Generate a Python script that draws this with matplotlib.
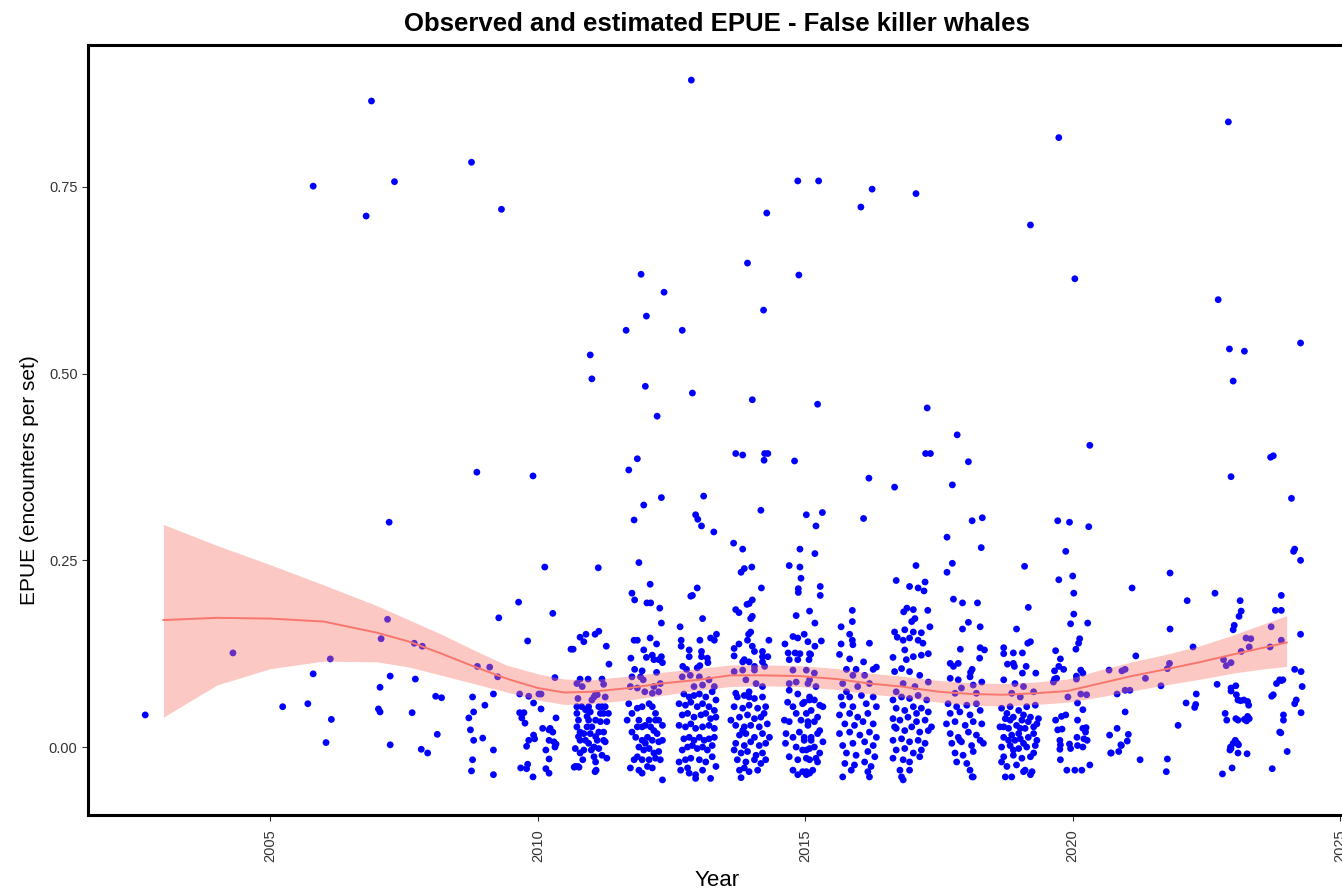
import matplotlib
matplotlib.use("Agg")
import matplotlib.pyplot as plt
import numpy as np

plt.rcParams['font.family'] = ['Liberation Sans', 'DejaVu Sans']

# Observed EPUE per set, (jittered year, encounters per set)
obs_early = [
    (2002.66, 0.043), (2004.30, 0.126), (2005.23, 0.054), (2005.70, 0.058), (2005.80, 0.098),
    (2005.80, 0.751), (2006.12, 0.118), (2006.14, 0.037), (2006.04, 0.006), (2006.79, 0.711),
    (2006.89, 0.865), (2007.22, 0.301), (2007.19, 0.171), (2007.07, 0.145), (2007.24, 0.095),
    (2007.05, 0.080), (2007.02, 0.051), (2007.05, 0.047), (2007.24, 0.003), (2007.32, 0.757),
    (2007.69, 0.139), (2007.84, 0.135), (2007.71, 0.091), (2007.65, 0.046), (2007.82, -0.003),
    (2007.94, -0.008), (2008.09, 0.068), (2008.20, 0.066), (2008.12, 0.017), (2008.76, 0.783),
    (2008.86, 0.368), (2009.32, 0.720), (2009.91, 0.363), (2009.64, 0.194), (2009.27, 0.173),
    (2009.81, 0.142), (2008.87, 0.108), (2009.10, 0.107), (2009.25, 0.094), (2008.78, 0.067),
    (2009.17, 0.071), (2009.01, 0.056), (2008.80, 0.047), (2008.71, 0.039), (2008.74, 0.023),
    (2008.80, 0.009), (2008.97, 0.012), (2009.17, -0.004), (2008.78, -0.017), (2008.76, -0.032),
    (2009.17, -0.037), (2009.66, 0.071), (2009.83, 0.068), (2009.92, 0.059), (2009.66, 0.046),
    (2009.74, 0.046), (2009.70, 0.039), (2009.76, 0.032), (2009.92, 0.016), (2009.94, 0.011),
    (2009.83, 0.009), (2009.79, 0.001), (2009.81, -0.023), (2009.68, -0.028), (2009.79, -0.029),
    (2009.91, -0.040), (2010.02, 0.071), (2010.06, 0.071), (2010.13, 0.241), (2010.28, 0.179),
    (2010.62, 0.131), (2010.32, 0.093), (2010.06, 0.051), (2010.34, 0.039), (2010.09, 0.025),
    (2010.23, 0.025), (2010.21, 0.023), (2010.28, 0.020), (2010.21, 0.009), (2010.30, 0.007),
    (2010.34, 0.004), (2010.32, 0.000), (2010.15, -0.004), (2010.21, -0.016), (2010.15, -0.029),
    (2010.21, -0.035),
]

obs_2011 = [
    (2010.98, 0.525), (2011.01, 0.493), (2011.13, 0.240), (2010.79, 0.147), (2010.90, 0.151),
    (2010.86, 0.141), (2011.07, 0.151), (2011.14, 0.155), (2010.66, 0.131), (2011.28, 0.135),
    (2011.33, 0.111), (2010.73, 0.085), (2010.79, 0.091), (2010.94, 0.091), (2011.20, 0.091),
    (2011.23, 0.084), (2010.83, 0.081), (2011.08, 0.071), (2011.05, 0.067), (2011.11, 0.070),
    (2010.75, 0.065), (2010.73, 0.054), (2010.73, 0.045), (2010.76, 0.036), (2010.73, 0.027),
    (2010.70, -0.002), (2010.70, -0.026), (2010.75, -0.026), (2010.79, 0.020), (2010.79, 0.009),
    (2010.79, -0.008), (2010.86, -0.004), (2010.84, -0.017), (2010.89, 0.050), (2010.92, 0.041),
    (2010.95, 0.054), (2010.98, 0.047), (2010.95, 0.036), (2010.92, 0.027), (2010.98, 0.018),
    (2010.95, 0.005), (2011.05, 0.000), (2011.05, -0.013), (2011.08, -0.020), (2011.09, -0.031),
    (2011.11, 0.009), (2011.14, 0.020), (2011.17, 0.034), (2011.17, 0.045), (2011.14, 0.054),
    (2011.20, 0.054), (2011.23, 0.045), (2011.26, 0.054), (2011.29, 0.034), (2011.23, 0.009),
    (2011.26, 0.007), (2011.20, -0.011), (2011.29, -0.015), (2011.23, 0.020), (2011.01, 0.027),
    (2011.08, 0.036), (2010.86, 0.018), (2011.00, -0.004), (2010.82, 0.054), (2011.32, 0.045),
    (2011.14, -0.002), (2010.89, 0.009), (2011.08, 0.014), (2011.01, 0.063), (2011.26, 0.067),
    (2010.76, 0.014), (2010.68, -0.027), (2010.77, -0.027), (2011.07, -0.033),
]

obs_2012 = [
    (2011.93, 0.633), (2012.36, 0.609), (2012.03, 0.577), (2011.65, 0.558), (2012.01, 0.483),
    (2012.23, 0.443), (2011.70, 0.371), (2011.86, 0.386), (2011.80, 0.304), (2011.98, 0.324),
    (2012.31, 0.334), (2011.89, 0.247), (2012.10, 0.218), (2011.76, 0.206), (2011.81, 0.197),
    (2012.04, 0.193), (2012.11, 0.193), (2012.28, 0.186), (2012.31, 0.166), (2011.80, 0.143),
    (2011.86, 0.143), (2012.10, 0.146), (2012.22, 0.138), (2011.98, 0.130), (2011.74, 0.119),
    (2012.03, 0.120), (2012.14, 0.123), (2012.17, 0.117), (2012.31, 0.121), (2012.33, 0.113),
    (2012.26, 0.117), (2011.81, 0.104), (2011.95, 0.102), (2011.76, 0.094), (2011.92, 0.094),
    (2011.97, 0.090), (2012.22, 0.100), (2011.73, 0.081), (2011.86, 0.079), (2012.00, 0.074),
    (2012.17, 0.081), (2012.26, 0.074), (2012.14, 0.072), (2012.29, 0.085), (2011.70, 0.058),
    (2011.67, 0.036), (2011.76, 0.045), (2011.86, 0.052), (2011.95, 0.054), (2011.89, 0.036),
    (2012.08, 0.058), (2012.14, 0.054), (2012.20, 0.045), (2012.26, 0.036), (2012.33, 0.029),
    (2011.95, 0.027), (2012.01, 0.029), (2012.11, 0.027), (2012.17, 0.022), (2012.23, 0.018),
    (2011.76, 0.020), (2011.83, 0.013), (2011.95, 0.009), (2012.05, 0.013), (2012.14, 0.009),
    (2012.26, 0.007), (2012.33, 0.009), (2011.89, 0.000), (2011.98, -0.004), (2012.08, -0.002),
    (2012.17, -0.008), (2012.26, -0.006), (2011.80, -0.017), (2011.86, -0.013), (2011.95, -0.017),
    (2012.08, -0.017), (2012.20, -0.015), (2012.29, -0.017), (2011.73, -0.028), (2011.89, -0.031),
    (2011.95, -0.035), (2012.05, -0.026), (2012.14, -0.028), (2012.33, -0.044), (2012.01, 0.005),
    (2012.08, 0.036), (2011.86, 0.027), (2012.20, 0.036),
]

obs_2013 = [
    (2012.87, 0.893), (2012.89, 0.474), (2012.70, 0.558), (2012.95, 0.311), (2012.99, 0.305),
    (2013.06, 0.296), (2013.10, 0.336), (2013.29, 0.288), (2012.98, 0.213), (2012.89, 0.203),
    (2012.86, 0.202), (2013.08, 0.172), (2012.66, 0.161), (2012.68, 0.143), (2012.68, 0.135),
    (2013.03, 0.143), (2013.23, 0.146), (2013.34, 0.151), (2013.30, 0.143), (2012.83, 0.121),
    (2012.83, 0.130), (2013.06, 0.128), (2013.06, 0.121), (2013.17, 0.119), (2013.18, 0.113),
    (2013.03, 0.109), (2012.98, 0.106), (2012.71, 0.108), (2012.78, 0.104), (2012.70, 0.094),
    (2012.85, 0.096), (2013.02, 0.094), (2013.20, 0.090), (2012.92, 0.081), (2013.08, 0.083),
    (2013.30, 0.081), (2012.73, 0.071), (2012.83, 0.067), (2012.92, 0.069), (2013.02, 0.071),
    (2013.14, 0.067), (2013.26, 0.074), (2013.33, 0.063), (2012.64, 0.058), (2012.76, 0.056),
    (2012.86, 0.060), (2012.98, 0.054), (2013.08, 0.058), (2013.20, 0.054), (2013.30, 0.049),
    (2012.70, 0.043), (2012.80, 0.045), (2012.92, 0.040), (2013.05, 0.043), (2013.14, 0.045),
    (2013.23, 0.038), (2013.33, 0.040), (2012.64, 0.029), (2012.76, 0.027), (2012.86, 0.031),
    (2012.95, 0.025), (2013.08, 0.027), (2013.20, 0.029), (2013.30, 0.025), (2012.73, 0.011),
    (2012.83, 0.013), (2012.92, 0.009), (2013.02, 0.013), (2013.11, 0.009), (2013.20, 0.011),
    (2013.30, 0.013), (2012.70, -0.004), (2012.80, 0.000), (2012.89, 0.002), (2012.98, -0.002),
    (2013.08, 0.000), (2013.17, -0.004), (2013.26, 0.002), (2012.64, -0.020), (2012.76, -0.017),
    (2012.86, -0.015), (2013.02, -0.017), (2013.14, -0.020), (2013.26, -0.013), (2012.67, -0.031),
    (2012.80, -0.028), (2012.95, -0.037), (2013.08, -0.031), (2013.23, -0.042), (2013.33, -0.026),
    (2012.95, -0.042), (2012.83, -0.035),
]

obs_2014 = [
    (2013.92, 0.648), (2014.28, 0.715), (2014.22, 0.585), (2014.01, 0.465), (2013.70, 0.393),
    (2013.83, 0.391), (2014.24, 0.393), (2014.30, 0.393), (2014.23, 0.384), (2014.17, 0.317),
    (2013.66, 0.273), (2013.83, 0.265), (2013.86, 0.239), (2013.80, 0.234), (2014.00, 0.241),
    (2014.18, 0.213), (2013.91, 0.191), (2013.95, 0.192), (2014.01, 0.197), (2013.70, 0.184),
    (2013.76, 0.180), (2014.01, 0.175), (2013.98, 0.172), (2013.98, 0.154), (2013.94, 0.151),
    (2013.92, 0.143), (2013.76, 0.138), (2014.32, 0.143), (2013.67, 0.132), (2014.01, 0.135),
    (2014.05, 0.128), (2014.20, 0.128), (2014.20, 0.121), (2014.30, 0.121), (2013.67, 0.122),
    (2013.83, 0.114), (2013.86, 0.117), (2013.95, 0.114), (2014.05, 0.108), (2014.20, 0.114),
    (2013.67, 0.101), (2013.83, 0.103), (2014.05, 0.103), (2014.24, 0.108), (2013.89, 0.090),
    (2014.08, 0.085), (2013.70, 0.072), (2013.95, 0.074), (2014.20, 0.081), (2013.73, 0.067),
    (2013.86, 0.069), (2014.05, 0.065), (2014.20, 0.067), (2013.67, 0.054), (2013.83, 0.052),
    (2013.95, 0.056), (2014.11, 0.052), (2014.26, 0.054), (2013.77, 0.040), (2013.92, 0.043),
    (2014.05, 0.038), (2014.17, 0.040), (2013.70, 0.029), (2013.86, 0.027), (2013.98, 0.029),
    (2014.14, 0.027), (2014.29, 0.031), (2013.77, 0.016), (2013.89, 0.018), (2014.05, 0.013),
    (2014.20, 0.018), (2013.70, 0.005), (2013.86, 0.002), (2013.98, 0.007), (2014.14, 0.002),
    (2014.26, 0.005), (2013.80, -0.008), (2013.92, -0.006), (2014.08, -0.011), (2014.20, -0.008),
    (2013.67, -0.004), (2013.73, -0.017), (2013.89, -0.020), (2014.05, -0.017), (2014.17, -0.022),
    (2013.77, -0.031), (2013.86, -0.028), (2013.95, -0.033), (2014.11, -0.031), (2013.80, -0.041),
    (2014.26, -0.017), (2013.61, 0.036), (2014.33, 0.013), (2013.95, 0.067), (2014.23, 0.045),
    (2013.83, 0.022),
]

obs_2015 = [
    (2014.86, 0.758), (2015.25, 0.758), (2014.88, 0.632), (2015.23, 0.459), (2014.80, 0.383),
    (2015.02, 0.311), (2015.32, 0.314), (2015.20, 0.296), (2015.18, 0.259), (2014.90, 0.265),
    (2014.70, 0.243), (2014.90, 0.241), (2014.92, 0.226), (2014.87, 0.212), (2014.87, 0.207),
    (2015.28, 0.215), (2015.28, 0.203), (2014.83, 0.176), (2015.08, 0.182), (2015.18, 0.166),
    (2014.62, 0.138), (2014.77, 0.148), (2014.86, 0.146), (2014.98, 0.151), (2015.05, 0.141),
    (2015.30, 0.142), (2015.18, 0.135), (2014.68, 0.126), (2014.81, 0.126), (2014.70, 0.117),
    (2015.10, 0.124), (2014.90, 0.125), (2015.08, 0.125), (2014.86, 0.117), (2015.07, 0.117),
    (2014.77, 0.103), (2015.02, 0.103), (2014.83, 0.087), (2015.08, 0.090), (2014.70, 0.085),
    (2015.17, 0.099), (2015.05, 0.085), (2015.20, 0.081), (2014.70, 0.076), (2014.86, 0.071),
    (2014.67, 0.060), (2014.77, 0.054), (2014.95, 0.058), (2015.08, 0.063), (2014.61, 0.036),
    (2014.70, 0.034), (2014.83, 0.045), (2014.92, 0.036), (2015.05, 0.034), (2014.64, 0.018),
    (2014.77, 0.013), (2014.89, 0.020), (2014.98, 0.009), (2015.11, 0.013), (2014.63, 0.005),
    (2014.83, 0.000), (2014.95, -0.004), (2015.08, -0.002), (2014.70, -0.013), (2014.86, -0.017),
    (2015.02, -0.015), (2014.77, -0.031), (2014.95, -0.033), (2015.08, -0.035), (2014.86, -0.037),
    (2015.02, -0.037), (2014.98, 0.060), (2015.08, 0.067), (2015.17, 0.063), (2015.27, 0.056),
    (2015.02, 0.045), (2015.11, 0.049), (2015.23, 0.040), (2015.33, 0.054), (2015.05, 0.029),
    (2015.17, 0.034), (2015.27, 0.022), (2014.98, 0.013), (2015.11, 0.009), (2015.23, 0.018),
    (2015.33, 0.007), (2015.02, -0.004), (2015.17, 0.000), (2015.27, -0.008), (2015.08, -0.017),
    (2015.20, -0.015), (2015.14, -0.031), (2015.02, -0.033), (2015.23, -0.020),
]

obs_2016 = [
    (2016.25, 0.747), (2016.04, 0.723), (2016.19, 0.360), (2016.09, 0.306), (2015.88, 0.183),
    (2015.88, 0.168), (2015.67, 0.161), (2015.83, 0.151), (2015.88, 0.143), (2015.89, 0.137),
    (2015.67, 0.138), (2016.20, 0.139), (2015.64, 0.124), (2015.83, 0.118), (2016.09, 0.114),
    (2015.77, 0.104), (2015.95, 0.104), (2016.27, 0.104), (2016.33, 0.107), (2015.89, 0.096),
    (2016.11, 0.096), (2015.70, 0.085), (2015.98, 0.081), (2016.20, 0.085), (2015.77, 0.074),
    (2015.67, 0.067), (2015.83, 0.067), (2016.05, 0.069), (2016.27, 0.067), (2015.70, 0.056),
    (2015.89, 0.054), (2016.14, 0.058), (2016.33, 0.054), (2015.64, 0.043), (2015.83, 0.045),
    (2015.98, 0.040), (2016.17, 0.045), (2015.74, 0.031), (2015.92, 0.029), (2016.08, 0.034),
    (2016.27, 0.031), (2015.64, 0.018), (2015.83, 0.020), (2016.02, 0.016), (2016.20, 0.020),
    (2016.33, 0.013), (2015.70, 0.002), (2015.89, 0.005), (2016.11, 0.007), (2016.27, 0.002),
    (2015.77, -0.008), (2015.95, -0.011), (2016.17, -0.006), (2016.30, -0.013), (2015.74, -0.022),
    (2015.92, -0.024), (2016.11, -0.020), (2016.23, -0.026), (2015.86, -0.031), (2016.17, -0.033),
    (2015.70, -0.040), (2016.20, -0.040),
]

obs_2017 = [
    (2017.07, 0.741), (2017.28, 0.454), (2017.25, 0.393), (2017.34, 0.393), (2016.67, 0.348),
    (2017.07, 0.243), (2016.70, 0.223), (2016.95, 0.215), (2017.11, 0.213), (2017.22, 0.209),
    (2017.24, 0.221), (2016.84, 0.181), (2016.90, 0.186), (2017.02, 0.184), (2017.29, 0.183),
    (2016.99, 0.168), (2017.05, 0.172), (2017.33, 0.161), (2016.67, 0.154), (2016.86, 0.157),
    (2017.02, 0.154), (2017.17, 0.153), (2016.72, 0.147), (2016.83, 0.143), (2016.95, 0.146),
    (2017.11, 0.143), (2017.20, 0.139), (2016.64, 0.120), (2016.89, 0.117), (2017.02, 0.121),
    (2017.17, 0.123), (2017.30, 0.125), (2016.86, 0.130), (2016.67, 0.101), (2016.80, 0.105),
    (2016.95, 0.101), (2017.14, 0.096), (2017.30, 0.087), (2016.83, 0.085), (2017.05, 0.081),
    (2016.70, 0.074), (2016.64, 0.063), (2016.80, 0.067), (2016.95, 0.065), (2017.11, 0.069),
    (2017.27, 0.063), (2016.70, 0.052), (2016.86, 0.049), (2017.02, 0.054), (2017.17, 0.052),
    (2017.30, 0.047), (2016.64, 0.038), (2016.77, 0.036), (2016.92, 0.040), (2017.08, 0.034),
    (2017.24, 0.036), (2016.70, 0.025), (2016.86, 0.022), (2016.99, 0.027), (2017.14, 0.020),
    (2017.30, 0.022), (2016.64, 0.009), (2016.80, 0.011), (2016.95, 0.007), (2017.11, 0.009),
    (2017.24, 0.005), (2016.70, -0.004), (2016.86, -0.002), (2017.02, -0.008), (2017.17, -0.004),
    (2016.64, -0.015), (2016.83, -0.017), (2016.95, -0.020), (2017.14, -0.013), (2016.77, -0.031),
    (2016.95, -0.031), (2016.83, -0.044), (2016.80, -0.040), (2016.67, 0.027), (2017.36, 0.027),
    (2017.08, 0.045),
]

obs_2018 = [
    (2017.84, 0.418), (2018.05, 0.382), (2017.75, 0.351), (2018.12, 0.303), (2018.31, 0.307),
    (2017.65, 0.281), (2018.29, 0.267), (2017.75, 0.246), (2017.65, 0.234), (2017.77, 0.198),
    (2017.94, 0.193), (2018.22, 0.193), (2018.05, 0.167), (2017.94, 0.158), (2018.27, 0.161),
    (2017.90, 0.131), (2018.27, 0.133), (2018.35, 0.130), (2018.26, 0.119), (2017.71, 0.112),
    (2017.77, 0.108), (2017.86, 0.112), (2018.12, 0.104), (2018.09, 0.100), (2017.71, 0.092),
    (2017.86, 0.090), (2018.08, 0.094), (2018.14, 0.083), (2017.92, 0.079), (2017.80, 0.072),
    (2018.20, 0.072), (2018.30, 0.087), (2017.67, 0.058), (2017.83, 0.054), (2018.02, 0.056),
    (2018.20, 0.058), (2017.71, 0.045), (2017.89, 0.047), (2018.08, 0.043), (2018.27, 0.049),
    (2017.64, 0.031), (2017.80, 0.034), (2017.99, 0.029), (2018.14, 0.034), (2018.30, 0.031),
    (2017.71, 0.018), (2017.86, 0.013), (2018.05, 0.020), (2018.20, 0.016), (2017.74, 0.005),
    (2017.92, 0.007), (2018.11, 0.002), (2018.27, 0.009), (2017.80, -0.008), (2017.95, -0.011),
    (2018.14, -0.006), (2017.83, -0.020), (2018.02, -0.022), (2018.08, -0.031), (2018.14, -0.040),
    (2017.89, 0.009), (2018.33, 0.005), (2018.12, -0.040),
]

obs_2019 = [
    (2019.21, 0.699), (2019.10, 0.242), (2019.17, 0.187), (2018.95, 0.158), (2019.21, 0.141),
    (2019.16, 0.139), (2018.71, 0.133), (2018.71, 0.125), (2018.89, 0.126), (2019.06, 0.126),
    (2018.78, 0.111), (2018.89, 0.112), (2018.91, 0.108), (2019.13, 0.108), (2019.06, 0.099),
    (2019.31, 0.099), (2018.71, 0.090), (2018.92, 0.085), (2019.08, 0.081), (2019.27, 0.074),
    (2018.86, 0.072), (2019.02, 0.067), (2018.67, 0.052), (2018.83, 0.054), (2018.99, 0.049),
    (2019.14, 0.054), (2019.30, 0.056), (2018.74, 0.038), (2018.89, 0.040), (2019.05, 0.036),
    (2019.21, 0.040), (2019.36, 0.038), (2018.64, 0.027), (2018.80, 0.025), (2018.95, 0.029),
    (2019.11, 0.025), (2019.27, 0.027), (2018.71, 0.013), (2018.86, 0.016), (2019.02, 0.011),
    (2019.17, 0.013), (2019.33, 0.009), (2018.67, 0.000), (2018.83, 0.002), (2018.99, -0.002),
    (2019.14, 0.000), (2019.30, 0.002), (2018.71, -0.013), (2018.89, -0.011), (2019.05, -0.015),
    (2019.21, -0.013), (2018.77, -0.026), (2018.95, -0.024), (2019.11, -0.031), (2019.24, -0.033),
    (2018.74, -0.040), (2018.86, -0.040), (2019.21, -0.037), (2018.67, -0.020), (2019.02, 0.025),
    (2018.92, 0.009), (2018.83, 0.036), (2019.08, 0.043), (2019.27, 0.018), (2019.33, 0.031),
    (2018.77, 0.045), (2018.99, 0.018), (2019.17, 0.034), (2018.89, -0.004), (2019.08, 0.005),
    (2018.80, 0.009), (2019.27, -0.008), (2018.71, 0.027), (2019.08, -0.033),
]

obs_2020 = [
    (2019.74, 0.816), (2020.04, 0.627), (2020.32, 0.404), (2019.72, 0.303), (2019.94, 0.301),
    (2020.30, 0.295), (2019.87, 0.262), (2019.74, 0.224), (2020.00, 0.229), (2020.02, 0.206),
    (2020.02, 0.178), (2019.96, 0.165), (2020.28, 0.166), (2020.13, 0.145), (2020.11, 0.139),
    (2019.68, 0.129), (2020.06, 0.131), (2019.77, 0.118), (2019.74, 0.108), (2019.83, 0.104),
    (2019.66, 0.102), (2019.66, 0.091), (2020.15, 0.103), (2020.19, 0.099), (2019.64, 0.087),
    (2019.70, 0.092), (2020.07, 0.091), (2020.07, 0.095), (2019.91, 0.067), (2020.15, 0.071),
    (2020.26, 0.070), (2020.09, 0.059), (2020.19, 0.050), (2019.89, -0.031), (2020.04, -0.031),
    (2020.17, -0.031), (2020.32, -0.024), (2019.77, -0.017), (2019.76, 0.009), (2019.77, 0.003),
    (2019.76, -0.003), (2019.94, 0.004), (2019.96, -0.002), (2020.09, 0.002), (2020.19, 0.000),
    (2020.21, 0.011), (2020.27, 0.009), (2020.24, 0.020), (2020.19, 0.025), (2020.25, 0.026),
    (2020.08, 0.013), (2019.72, 0.023), (2019.80, 0.024), (2019.68, 0.036), (2019.79, 0.041),
    (2019.87, 0.043), (2020.09, 0.036),
]

obs_2021 = [
    (2021.11, 0.213), (2021.18, 0.122), (2020.68, 0.103), (2020.92, 0.102), (2020.98, 0.104),
    (2021.36, 0.092), (2020.83, 0.071), (2020.98, 0.076), (2021.07, 0.076), (2020.98, 0.047),
    (2020.83, 0.025), (2020.69, 0.016), (2021.04, 0.017), (2021.02, 0.008), (2020.91, 0.002),
    (2020.86, -0.006), (2020.72, -0.008), (2021.26, -0.017), (2021.65, 0.082), (2021.77, 0.105),
    (2021.81, 0.112), (2021.82, 0.233), (2021.82, 0.158), (2021.77, -0.016), (2021.75, -0.033),
    (2021.97, 0.029), (2020.71, -0.008), (2020.90, 0.003),
]

obs_2022 = [
    (2022.14, 0.196), (2022.25, 0.134), (2022.12, 0.059), (2022.31, 0.071), (2022.30, 0.057),
    (2022.28, 0.053), (2022.66, 0.206), (2022.70, 0.084), (2022.82, 0.117), (2022.87, 0.109),
    (2022.96, 0.113), (2022.80, -0.036), (2022.98, -0.028), (2022.91, 0.837), (2022.72, 0.599),
    (2022.93, 0.533), (2022.96, 0.362),
]

obs_2023 = [
    (2023.21, 0.530), (2023.00, 0.490), (2023.70, 0.388), (2023.75, 0.390), (2023.13, 0.196),
    (2023.15, 0.182), (2023.11, 0.175), (2023.02, 0.163), (2023.00, 0.157), (2023.24, 0.146),
    (2023.33, 0.145), (2023.30, 0.134), (2023.15, 0.128), (2022.96, 0.079), (2023.05, 0.082),
    (2022.96, 0.075), (2023.06, 0.070), (2023.09, 0.063), (2023.20, 0.063), (2023.27, 0.061),
    (2023.29, 0.056), (2022.85, 0.045), (2022.88, 0.036), (2023.05, 0.038), (2023.09, 0.036),
    (2023.27, 0.041), (2023.30, 0.038), (2023.25, 0.035), (2023.04, 0.009), (2023.08, 0.005),
    (2022.96, -0.002), (2022.94, -0.004), (2023.09, -0.008), (2023.26, -0.009), (2022.95, 0.000),
    (2023.00, 0.005), (2023.10, 0.003), (2023.71, 0.161), (2023.69, 0.134), (2023.90, 0.143),
    (2023.79, 0.183), (2023.90, 0.183), (2023.90, 0.203), (2023.14, 0.062), (2023.21, 0.037),
]

obs_2024 = [
    (2024.26, 0.541), (2024.09, 0.333), (2024.13, 0.262), (2024.15, 0.265), (2024.26, 0.250),
    (2024.26, 0.151), (2024.15, 0.104), (2024.27, 0.101), (2024.29, 0.081), (2024.15, 0.058),
    (2024.18, 0.063), (2024.27, 0.046), (2023.81, 0.085), (2023.90, 0.089), (2023.72, 0.068),
    (2023.75, 0.070), (2023.94, 0.043), (2023.94, 0.036), (2023.87, 0.020), (2023.89, 0.019),
    (2024.01, -0.006), (2023.73, -0.029), (2023.87, 0.090), (2023.93, 0.090),
]

# GAM fit with confidence band
fit_year = [2003.0, 2004.0, 2005.0, 2006.0, 2007.0, 2007.6, 2008.2, 2008.8, 2009.4, 2010.0,
            2010.5, 2011.0, 2011.7, 2012.3, 2013.0, 2013.6, 2014.2, 2014.9, 2015.6, 2016.2,
            2016.8, 2017.5, 2018.1, 2018.7, 2019.3, 2019.9, 2020.5, 2021.1, 2021.8, 2022.4,
            2023.0, 2023.5, 2024.0]
fit_mean = [0.170, 0.173, 0.172, 0.168, 0.153, 0.141, 0.125, 0.108, 0.092, 0.079,
            0.073, 0.074, 0.079, 0.085, 0.090, 0.096, 0.096, 0.095, 0.091, 0.085,
            0.081, 0.074, 0.071, 0.070, 0.072, 0.075, 0.085, 0.095, 0.105, 0.114,
            0.124, 0.132, 0.140]
fit_upper = [0.298, 0.270, 0.244, 0.217, 0.189, 0.170, 0.151, 0.130, 0.110, 0.098,
             0.091, 0.090, 0.095, 0.100, 0.105, 0.110, 0.110, 0.109, 0.105, 0.099,
             0.095, 0.089, 0.086, 0.085, 0.087, 0.091, 0.103, 0.114, 0.125, 0.136,
             0.150, 0.163, 0.176]
fit_lower = [0.040, 0.083, 0.105, 0.115, 0.114, 0.107, 0.096, 0.085, 0.074, 0.063,
             0.057, 0.058, 0.063, 0.069, 0.076, 0.081, 0.082, 0.081, 0.077, 0.071,
             0.067, 0.060, 0.056, 0.055, 0.057, 0.060, 0.067, 0.075, 0.084, 0.091,
             0.099, 0.104, 0.108]

all_obs = (obs_early + obs_2011 + obs_2012 + obs_2013 + obs_2014 + obs_2015 + obs_2016
           + obs_2017 + obs_2018 + obs_2019 + obs_2020 + obs_2021 + obs_2022 + obs_2023
           + obs_2024)
obs = np.array(all_obs)

fig = plt.figure(figsize=(13.42, 8.92), dpi=100)
ax = fig.add_axes([88 / 1342, 1 - 815 / 892, 1.003 - 88 / 1342, (815 - 45) / 892])

ax.scatter(obs[:, 0], obs[:, 1], s=24, color='#0000FF', edgecolors='none', zorder=2)
ax.fill_between(fit_year, fit_lower, fit_upper, color='#F8766D', alpha=0.4,
                linewidth=0, zorder=3)
ax.plot(fit_year, fit_mean, color='#F8766D', linewidth=1.4, zorder=4)

ax.set_xlim(2001.59, 2025.11)
ax.set_ylim(-0.091, 0.940)
ax.set_xticks([2005, 2010, 2015, 2020, 2025])
ax.set_yticks([0.0, 0.25, 0.5, 0.75])
ax.set_yticklabels(['0.00', '0.25', '0.50', '0.75'])
ax.tick_params(axis='x', labelrotation=90, pad=6)
ax.tick_params(labelsize=10.5, labelcolor='#333333', color='#333333', length=4, width=0.8)

for side in ['left', 'bottom', 'top', 'right']:
    ax.spines[side].set_linewidth(2.2)
    ax.spines[side].set_color('black')

ax.set_xlabel('Year', fontsize=16, labelpad=6)
ax.set_ylabel('EPUE (encounters per set)', fontsize=15, labelpad=8)
ax.yaxis.set_label_coords(-0.039, 0.435)
ax.set_title('Observed and estimated EPUE - False killer whales', fontsize=18.5,
             fontweight='bold', pad=10)

fig.savefig('out.png', dpi=100)
